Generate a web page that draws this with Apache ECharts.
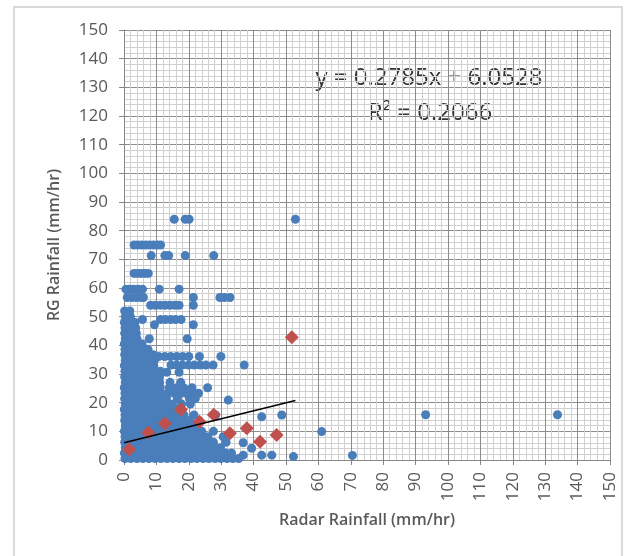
<!DOCTYPE html>
<html>
<head>
<meta charset="utf-8">
<script src="https://cdn.jsdelivr.net/npm/echarts@6/dist/echarts.min.js"></script>
<style>html,body{margin:0;padding:0;background:#fff}#c{width:635px;height:556px}</style>
</head>
<body>
<div id="c"></div>
<script>
// Axis ticks
const xTicks = [0,10,20,30,40,50,60,70,80,90,100,110,120,130,140,150];
const yTicks = [0,10,20,30,40,50,60,70,80,90,100,110,120,130,140,150];

// Dense blue cloud: RG rainfall level (y) and radar rainfall values (x) at that level
const denseY = [0.5, 2.4, 4.3, 6.2, 8.1, 10.0, 11.9, 13.8, 15.7, 17.6, 19.5, 21.4, 23.3, 25.2, 27.1, 29.0, 31.0, 32.9, 34.8, 36.7, 38.6, 40.5, 42.3, 44.2, 46.1, 48.0, 50.0, 52.0];
const denseX = [
  [0.3,2.1,4.0,5.8,7.7,9.6,11.4,13.3,15.1,17.0,18.8,20.7,22.5,24.4,26.2,28.1,29.9,31.8,33.6,35.4],
  [0.1,1.9,3.8,5.6,7.5,9.3,11.2,13.0,14.9,16.7,18.6,20.4,22.3,24.1,26.0,27.8,29.7,31.5,33.2],
  [0.4,2.2,4.1,5.9,7.8,9.6,11.5,13.3,15.2,17.0,18.9,20.7,22.6,24.4,26.3,28.0,29.8],
  [0.2,2.0,3.9,5.7,7.6,9.4,11.3,13.1,15.0,16.8,18.7,20.5,22.4,24.2,26.1,27.6,31.5],
  [0.3,2.1,4.0,5.8,7.7,9.5,11.4,13.2,15.1,16.9,18.8,20.6,22.5,24.3,25.9,30.6],
  [0.1,1.9,3.8,5.6,7.5,9.3,11.2,13.0,14.9,16.7,18.6,20.4,22.2,24.0,27.6],
  [0.4,2.2,4.1,5.9,7.8,9.6,11.5,13.3,15.2,17.0,18.8,20.5,22.4],
  [0.2,2.0,3.9,5.7,7.6,9.4,11.3,13.1,15.0,16.8,18.6,20.3],
  [0.3,2.1,4.0,5.8,7.7,9.5,11.4,13.2,15.1,16.9,18.5,21.6,28.3],
  [0.1,1.9,3.8,5.6,7.5,9.3,11.2,13.0,14.9,16.6],
  [0.4,2.2,4.1,5.9,7.8,9.6,11.5,13.3,15.0,17.8,20.5],
  [0.2,2.0,3.9,5.7,7.6,9.4,11.3,13.1,16.5,20.2,22.0],
  [0.3,2.1,4.0,5.8,7.7,9.5,11.4,13.5,15.6,17.4,19.3,21.2,23.0],
  [0.1,1.9,3.8,5.6,7.5,9.3,11.2,14.0,16.3,18.4,21.0,25.8],
  [0.4,2.2,4.1,5.9,7.8,9.6,11.0,14.2,17.5],
  [0.2,2.0,3.9,5.7,7.6,9.4,11.0],
  [0.3,2.1,4.0,5.8,7.7,9.5,11.2],
  [0.1,1.9,3.8,5.6,7.5,9.2],
  [0.4,2.2,4.1,5.9,7.8,9.4],
  [0.2,2.0,3.9,5.7,7.6,9.0],
  [0.3,2.1,4.0,5.8,7.4],
  [0.1,1.9,3.8,5.6],
  [0.4,2.2,4.0],
  [0.2,2.0,3.8],
  [0.3,2.1,3.6],
  [0.1,1.9,3.4],
  [0.4,2.0],
  [0.2,1.8]
];

// Scattered blue points (radar x, gauge y)
const blueX = [13.2,17.0, 14.5,16.2,18.0,19.9,21.7,23.5,25.3,27.5,37.1, 10.7,12.6,14.4,16.3,18.1,20.0,23.3,29.9,
  7.8,19.5, 9.4,21.4, 5.7,11.3,12.8,14.4,15.9,17.6, 8.2,9.7,11.2,12.7,14.2,15.7,17.0,21.4,
  1.0,2.4,3.8,5.2,6.0,21.4,29.6,31.0,32.7, 0.6,1.8,3.0,4.3,5.7,10.9,17.0,
  3.1,4.2,5.3,6.4,7.5, 8.4,12.6,13.8,18.9,27.7, 3.1,4.3,5.5,6.7,7.9,9.1,10.3,11.3,
  15.5,18.9,20.1,52.9, 32.2,42.5,48.7,36.8,39.4,36.8,42.5,45.6,52.3,61.0,70.5,93.1,133.8];
const blueY = [30.6,30.6, 33.1,33.1,33.1,33.1,33.1,33.1,33.1,33.1,33.1, 36.1,36.1,36.1,36.1,36.1,36.1,36.1,36.1,
  42.3,42.3, 47.2,47.2, 49.0,49.0,49.0,49.0,49.0,49.0, 54.0,54.0,54.0,54.0,54.0,54.0,54.0,54.0,
  56.7,56.7,56.7,56.7,56.7,56.7,56.7,56.7,56.7, 59.6,59.6,59.6,59.6,59.6,59.6,59.6,
  65.1,65.1,65.1,65.1,65.1, 71.3,71.3,71.3,71.3,71.3, 75.0,75.0,75.0,75.0,75.0,75.0,75.0,75.0,
  84.0,84.0,84.0,84.0, 20.9,15.1,15.7,6.0,4.1,1.7,1.7,1.7,1.2,9.9,1.6,15.8,15.8];

// Red points
const redX = [1.6, 7.5, 12.6, 17.6, 23.3, 27.7, 32.7, 37.9, 42.0, 47.1, 51.8];
const redY = [3.7, 9.6, 12.7, 17.6, 13.3, 15.8, 9.3, 11.1, 6.4, 8.7, 42.8];

// Linear trendline
const slope = 0.2785, intercept = 6.0528, trendX = [0, 52.9];
const eqText = 'y = 0.2785x + 6.0528';
const r2Text = 'R² = 0.2066';

const blueData = [];
denseY.forEach((y, i) => denseX[i].forEach(x => blueData.push([x, y])));
blueX.forEach((x, i) => blueData.push([x, blueY[i]]));
const redData = redX.map((x, i) => [x, redY[i]]);
const trendData = trendX.map(x => [x, slope * x + intercept]);

const FONT = '"Open Sans", sans-serif';
const chart = echarts.init(document.getElementById('c'));
const axisCommon = {
  type: 'value', min: 0, max: 150, interval: 10,
  axisLine: {show: true, lineStyle: {color: '#868686', width: 1}},
  axisTick: {show: true, length: 5, lineStyle: {color: '#868686'}},
  splitLine: {show: true, lineStyle: {color: '#8c8c8c', width: 1}},
  minorTick: {show: false, splitNumber: 5},
  minorSplitLine: {show: true, lineStyle: {color: '#d0d0d0', width: 1}},
  nameLocation: 'middle',
  nameTextStyle: {fontFamily: FONT, fontSize: 16, fontWeight: 600, color: '#595959'}
};
chart.setOption({
  animation: false,
  backgroundColor: '#fff',
  grid: {left: 124, right: 25, top: 30, bottom: 96},
  xAxis: Object.assign({}, axisCommon, {
    name: 'Radar Rainfall (mm/hr)', nameGap: 52,
    axisLabel: {rotate: 90, margin: 12, fontFamily: FONT, fontSize: 17, color: '#595959',
      formatter: v => xTicks.includes(v) ? String(v) : ''}
  }),
  yAxis: Object.assign({}, axisCommon, {
    name: 'RG Rainfall (mm/hr)', nameGap: 62,
    axisLabel: {margin: 16, fontFamily: FONT, fontSize: 17, color: '#595959',
      formatter: v => yTicks.includes(v) ? String(v) : ''}
  }),
  series: [
    {type: 'scatter', data: blueData, symbol: 'circle', symbolSize: 9,
     itemStyle: {color: '#4A7EBB', opacity: 1}},
    {type: 'scatter', data: redData, symbol: 'diamond', symbolSize: 14,
     itemStyle: {color: '#C0504D', opacity: 1}},
    {type: 'line', data: trendData, symbol: 'none', lineStyle: {color: '#000', width: 1.5}}
  ],
  graphic: [
    {type: 'rect', shape: {x: 14, y: 7, width: 608, height: 560}, style: {fill: 'none', stroke: '#d9d9d9', lineWidth: 2}, silent: true},
    {type: 'text', x: 429, y: 78, style: {text: eqText, font: '24px ' + FONT, fill: '#333333', textAlign: 'center', textVerticalAlign: 'middle'}},
    {type: 'text', x: 430, y: 113, style: {text: r2Text, font: '24px ' + FONT, fill: '#333333', textAlign: 'center', textVerticalAlign: 'middle'}}
  ]
});
</script>
</body>
</html>
